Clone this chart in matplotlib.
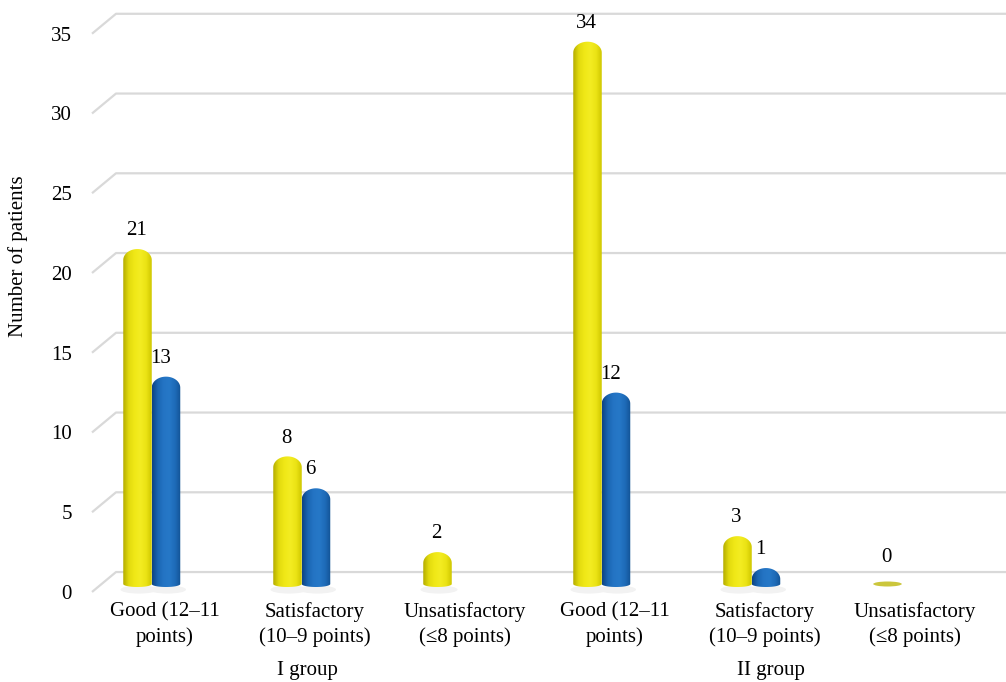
import matplotlib
matplotlib.use("Agg")
import matplotlib.pyplot as plt
import numpy as np
from matplotlib.colors import LinearSegmentedColormap
from matplotlib.patches import Ellipse, PathPatch
from matplotlib.path import Path

plt.rcParams["font.family"] = ["Liberation Serif", "DejaVu Serif"]

categories = [
    "Good (12–11\npoints)",
    "Satisfactory\n(10–9 points)",
    "Unsatisfactory\n(≤8 points)",
    "Good (12–11\npoints)",
    "Satisfactory\n(10–9 points)",
    "Unsatisfactory\n(≤8 points)",
]
group_names = ["I group", "II group"]
yellow_values = [21, 8, 2, 34, 3, 0]
blue_values = [13, 6, None, 12, 1, None]
y_ticks = [0, 5, 10, 15, 20, 25, 30, 35]

YELLOW = LinearSegmentedColormap.from_list(
    "cyl_yellow", ["#b2ab00", "#e2da0e", "#f0e817", "#f3ec22", "#ebe315", "#cfc700"])
BLUE = LinearSegmentedColormap.from_list(
    "cyl_blue", ["#0d4382", "#1a66b2", "#2474c4", "#2678c7", "#1e6bb8", "#125294"])

W, H = 1006, 682
fig = plt.figure(figsize=(W / 100, H / 100), dpi=100)
ax_left, ax_right, ax_top, ax_bottom = 90, 1006, 10, 597
ax = fig.add_axes([ax_left / W, 1 - ax_bottom / H,
                   (ax_right - ax_left) / W, (ax_bottom - ax_top) / H])

# pixel geometry: categories every 150 px, first at x=165; 15.95 px per patient
px_per_cat = 150.0
px_per_unit = 15.95
x0_px = 165
xlim = ((ax_left - x0_px) / px_per_cat, (ax_right - x0_px) / px_per_cat)
ylim = (-(ax_bottom - 584) / px_per_unit, (584 - ax_top) / px_per_unit)

bar_w = 28.5 / px_per_cat
cap = 11 / px_per_unit
base_cap = 3 / px_per_unit
x = np.arange(len(categories))
yellow_x = x - 27.5 / px_per_cat
blue_x = x + 1 / px_per_cat

# receding grid: back line plus a slanted segment toward the front edge
back_dy, front_dy = 0.75, -0.5
x_front = (92 - x0_px) / px_per_cat
x_back = (116 - x0_px) / px_per_cat
for v in y_ticks:
    ax.plot([x_front, x_back, xlim[1]], [v + front_dy, v + back_dy, v + back_dy],
            color="#d9d9d9", lw=1.6, zorder=1, solid_capstyle="butt")


def cylinder(xc, value, cmap, z):
    half = bar_w / 2
    t = np.linspace(0, np.pi, 40)
    top = value - cap
    xs = np.concatenate([xc - half * np.cos(t), xc + half * np.cos(t)])
    ys = np.concatenate([top + cap * np.sin(t), -base_cap * np.sin(t)])
    verts = np.column_stack([xs, ys])
    verts = np.vstack([verts, verts[:1]])
    codes = [Path.MOVETO] + [Path.LINETO] * (len(verts) - 2) + [Path.CLOSEPOLY]
    patch = PathPatch(Path(verts, codes), facecolor="none", edgecolor="none", zorder=z)
    ax.add_patch(patch)
    # faint shadow on the floor
    ax.add_patch(Ellipse((xc + 0.01, -0.35), bar_w * 1.3, 0.5,
                         facecolor="#f2f2f2", edgecolor="none", zorder=1.5))
    grad = np.linspace(0, 1, 256).reshape(1, -1)
    im = ax.imshow(grad, extent=[xc - half, xc + half, -base_cap, value],
                   aspect="auto", cmap=cmap, origin="lower", zorder=z,
                   interpolation="bilinear")
    im.set_clip_path(patch)


for xc, v in zip(yellow_x, yellow_values):
    if v == 0:
        ax.add_patch(Ellipse((xc, 0), bar_w, 5 / px_per_unit, angle=0,
                             facecolor="#cbc63c", edgecolor="none", zorder=3))
        offset = 16
    else:
        cylinder(xc, v, YELLOW, 3)
        offset = 10
    ax.annotate(str(v), xy=(xc, v), xytext=(-1, offset), textcoords="offset points",
                ha="center", va="baseline", fontsize=15, zorder=6)

for xc, v in zip(blue_x, blue_values):
    if v is None:
        continue
    cylinder(xc, v, BLUE, 4)
    ax.annotate(str(v), xy=(xc, v), xytext=(-4, 10), textcoords="offset points",
                ha="center", va="baseline", fontsize=15, zorder=6)

ax.set_xlim(*xlim)
ax.set_ylim(*ylim)

ax.set_xticks(x, labels=categories, fontsize=15, linespacing=1.35)
ax.set_yticks(np.array(y_ticks) + front_dy, labels=[str(v) for v in y_ticks], fontsize=15)
ax.tick_params(axis="both", length=0)
ax.tick_params(axis="x", pad=4)
ax.tick_params(axis="y", pad=13)
for s in ax.spines.values():
    s.set_visible(False)

for name, gx in zip(group_names, [307, 771]):
    fig.text(gx / W, 1 - 670 / H, name, ha="center", va="center", fontsize=15)

fig.text(18 / W, 1 - 256 / H, "Number of patients", rotation=90,
         ha="center", va="center", fontsize=15)

fig.savefig("out.png", dpi=100)
